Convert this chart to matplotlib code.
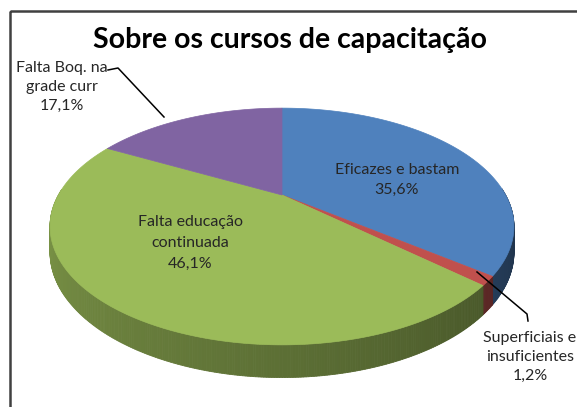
import numpy as np
import matplotlib
matplotlib.use('Agg')
import matplotlib.pyplot as plt
from matplotlib.patches import Polygon, Rectangle

# dados do grafico
titulo = 'Sobre os cursos de capacitação'
rotulos = ['Eficazes e bastam', 'Superficiais e\ninsuficientes',
           'Falta educação\ncontinuada', 'Falta Boq. na\ngrade curr']
valores = [35.6, 1.2, 46.1, 17.1]
cores = ['#4F81BD', '#C0504D', '#9BBB59', '#8064A2']

plt.rcParams['font.family'] = ['Lato', 'DejaVu Sans']

W, H = 577, 407
fig = plt.figure(figsize=(W / 100.0, H / 100.0), dpi=100)
ax = fig.add_axes([0, 0, 1, 1])
ax.set_xlim(0, W)
ax.set_ylim(H, 0)
ax.axis('off')

# projecao em perspectiva do disco
cx, cy = 282.0, 195.0
A, B, k = 223.6, 110.0, 0.266
esp = 24.0


def proj(th, z=0.0):
    u = np.cos(th)
    v = np.sin(th)
    d = 1 + k * v
    return cx + A * u / d, cy - (B * v - esp * z) / d


def hex2rgb(h):
    return np.array([int(h[i:i + 2], 16) for i in (1, 3, 5)]) / 255.0


# angulos das fatias (sentido horario a partir das 12h)
tot = float(sum(valores))
ini = []
fim = []
a = 90.0
for v in valores:
    ini.append(a)
    a = a - v / tot * 360.0
    fim.append(a)

# paredes laterais
for i in range(len(valores)):
    a0, a1 = fim[i], ini[i]
    ths = np.arange(a0, a1, 0.5)
    ths = np.append(ths, a1)
    base = hex2rgb(cores[i])
    for j in range(len(ths) - 1):
        t0 = np.radians(ths[j])
        t1 = np.radians(ths[j + 1])
        if np.sin(t0) > 0.05 and np.sin(t1) > 0.05:
            continue
        ang = ths[j] % 360.0
        if ang < 90:
            ang += 360
        f = 0.82 - 0.45 * (ang - 180.0) / 180.0
        f = min(max(f, 0.35), 0.85)
        cor = np.clip(base * f, 0, 1)
        pts = [proj(t0), proj(t1), proj(t1, 1), proj(t0, 1)]
        ax.add_patch(Polygon(pts, closed=True, facecolor=cor,
                             edgecolor=cor, lw=0.6, zorder=2))

# faces superiores
for i in range(len(valores)):
    ths = np.radians(np.linspace(ini[i], fim[i], 200))
    pts = [(cx, cy)] + [proj(t) for t in ths]
    ax.add_patch(Polygon(pts, closed=True, facecolor=cores[i],
                         edgecolor=cores[i], lw=0.5, zorder=3))

def pct(v):
    return ('%.1f%%' % v).replace('.', ',')

tc = '#262626'
fs = 11.5
ax.text(397, 180, rotulos[0] + '\n' + pct(valores[0]), ha='center',
        va='center', fontsize=fs, color=tc, linespacing=1.52, zorder=5)
ax.text(190, 243, rotulos[2] + '\n' + pct(valores[2]), ha='center',
        va='center', fontsize=fs, color=tc, linespacing=1.62, zorder=5)
ax.text(62, 87, rotulos[3] + '\n' + pct(valores[3]), ha='center',
        va='center', fontsize=fs, color=tc, linespacing=1.45, zorder=5)
ax.text(530, 357, rotulos[1] + '\n' + pct(valores[1]), ha='center',
        va='center', fontsize=fs, color=tc, linespacing=1.42, zorder=5)

# linhas de chamada
ax.plot([108, 118, 164], [70, 68, 117], color='black', lw=1.1, zorder=6)
ax.plot([477, 527, 528], [272, 314, 321], color='black', lw=1.1, zorder=6)

ax.text(290, 40, titulo, ha='center', va='center', fontsize=20.5,
        fontweight='bold', color='black', zorder=5)

# moldura
ax.add_patch(Rectangle((10, 11), 600, 420, fill=False,
                       edgecolor='#404040', lw=1.8, zorder=7))

fig.savefig('out.png', dpi=100)
